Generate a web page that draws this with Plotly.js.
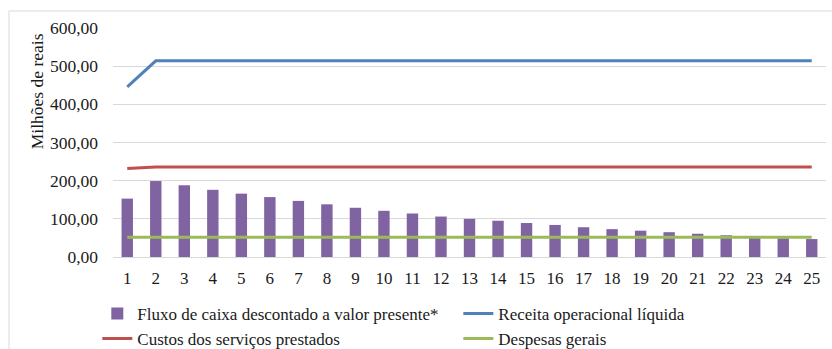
<!DOCTYPE html>
<html>
<head>
<meta charset="utf-8">
<script src="https://cdn.plot.ly/plotly-3.0.1.min.js"></script>
<style>
  html, body { margin: 0; padding: 0; background: #fff; }
  #chart { width: 832px; height: 349px; }
</style>
</head>
<body>
<div id="chart"></div>
<script>
// Anos do projeto (1 a 25)
const anos = ['1','2','3','4','5','6','7','8','9','10','11','12','13','14','15','16','17','18','19','20','21','22','23','24','25'];

// Valores em milhões de reais
const fluxoCaixaVP = [153, 199, 188, 176, 166, 157, 147, 138, 129, 121, 114, 106, 100, 95, 89, 84, 78, 73, 69, 65, 61, 57, 51, 49, 47];
const receitaOperacional = [446, 514, 514, 514, 514, 514, 514, 514, 514, 514, 514, 514, 514, 514, 514, 514, 514, 514, 514, 514, 514, 514, 514, 514, 514];
const custosServicos = [232, 236, 236, 236, 236, 236, 236, 236, 236, 236, 236, 236, 236, 236, 236, 236, 236, 236, 236, 236, 236, 236, 236, 236, 236];
const despesasGerais = [52, 52, 52, 52, 52, 52, 52, 52, 52, 52, 52, 52, 52, 52, 52, 52, 52, 52, 52, 52, 52, 52, 52, 52, 52];

// Marcas do eixo vertical
const yTicks = [0, 100, 200, 300, 400, 500, 600];

const nomes = {
  fluxo: 'Fluxo de caixa descontado a valor presente*',
  receita: 'Receita operacional líquida',
  custos: 'Custos dos serviços prestados',
  despesas: 'Despesas gerais'
};

const fonte = 'Liberation Serif, Times New Roman, serif';
const corTexto = '#1a1a1a';

const traces = [
  { type: 'bar', x: anos, y: fluxoCaixaVP, name: nomes.fluxo,
    marker: { color: '#8064A2' } },
  { type: 'scatter', mode: 'lines', x: anos, y: receitaOperacional, name: nomes.receita,
    line: { color: '#4F81BD', width: 3 } },
  { type: 'scatter', mode: 'lines', x: anos, y: custosServicos, name: nomes.custos,
    line: { color: '#C0504D', width: 3 } },
  { type: 'scatter', mode: 'lines', x: anos, y: despesasGerais, name: nomes.despesas,
    line: { color: '#9BBB59', width: 3 } }
];

const layout = {
  width: 832,
  height: 349,
  margin: { l: 113, r: 6, t: 28, b: 92, autoexpand: false },
  paper_bgcolor: '#ffffff',
  plot_bgcolor: '#ffffff',
  separators: ', ',
  font: { family: fonte, size: 17.5, color: corTexto },
  bargap: 0.6,
  showlegend: true,
  xaxis: {
    type: 'category',
    showgrid: false,
    zeroline: false,
    showline: false,
    ticks: '',
    ticklabelstandoff: 9,
    automargin: false,
    tickfont: { family: fonte, size: 17, color: corTexto }
  },
  yaxis: {
    range: [0, 600],
    tickvals: yTicks,
    tickformat: '.2f',
    showgrid: true,
    gridcolor: '#d9d9d9',
    gridwidth: 1,
    zeroline: true,
    zerolinecolor: '#d9d9d9',
    zerolinewidth: 1,
    showline: false,
    ticks: '',
    ticklabelstandoff: 14,
    automargin: false,
    tickfont: { family: fonte, size: 17.5, color: corTexto }
  },
  legend: {
    orientation: 'h',
    x: -0.022,
    xanchor: 'left',
    y: -0.17,
    yanchor: 'top',
    entrywidth: 316,
    entrywidthmode: 'pixels',
    tracegroupgap: 0,
    font: { family: fonte, size: 17, color: corTexto },
    bgcolor: 'rgba(0,0,0,0)'
  },
  annotations: [{
    text: 'Milhões de reais',
    xref: 'paper', yref: 'paper',
    x: -0.1066, y: 0.724,
    xanchor: 'center', yanchor: 'middle',
    textangle: -90,
    showarrow: false,
    font: { family: fonte, size: 17.5, color: corTexto }
  }],
  shapes: [{
    type: 'rect',
    xref: 'paper', yref: 'paper',
    x0: (9 - 113) / 713, x1: 1.2,
    y0: -0.6, y1: (257 - 11) / 229,
    line: { color: '#d9d9d9', width: 1 },
    fillcolor: 'rgba(0,0,0,0)',
    layer: 'below'
  }]
};

Plotly.newPlot('chart', traces, layout, { displayModeBar: false, staticPlot: true });
</script>
</body>
</html>
